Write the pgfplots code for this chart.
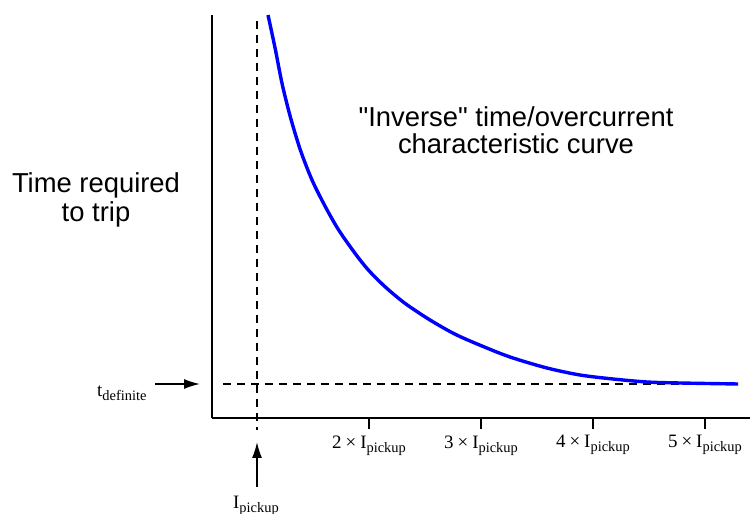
\documentclass[border=0pt]{standalone}
\usepackage{pgfplots}
\pgfplotsset{compat=1.18}
\usetikzlibrary{arrows.meta}
\usepackage{fontspec}
\setmainfont{Liberation Sans}[Ligatures=TeXOff]
\newfontfamily\tnr{Liberation Serif}[Ligatures=TeXOff]

% serif label with a lowered subscript
\newcommand\sublab[2]{{\tnr\fontsize{19}{21}\selectfont #1\raisebox{-4bp}{\fontsize{14.5}{15}\selectfont #2}}}
\newcommand\multlab[1]{{\tnr\fontsize{19}{21}\selectfont #1\hspace{4bp}×\hspace{4bp}I\raisebox{-4bp}{\fontsize{14.5}{15}\selectfont pickup}}}

\begin{document}
\begin{tikzpicture}
\useasboundingbox (0,0) rectangle (750bp,514bp);
\begin{axis}[at={(212bp,96bp)}, anchor=south west,
	scale only axis, width=538bp, height=403bp,
	xmin=0.598, xmax=5.402, ymin=0, ymax=4.03,
	axis lines=left,
	axis line style={-, line width=1.5bp},
	ytick=\empty,
	xtick={2,3,4,5},
	xticklabels={\multlab{2},\multlab{3},\multlab{4},\multlab{5}},
	tick align=outside,
	major tick length=11bp,
	tick style={line width=1.5bp, black},
	xticklabel style={yshift=-3bp},
	clip=false,
]

% pickup current
\addplot[black, line width=1.1bp, dash pattern=on 8bp off 6bp]
	coordinates {(1,3.97) (1,-0.12)};

% definite time
\addplot[black, line width=1.1bp, dash pattern=on 8bp off 6bp]
	coordinates {(0.696,0.34) (5.295,0.34)};

% inverse curve
\addplot[blue, line width=3.4bp, smooth]
	coordinates {(1.098,4.03) (1.163,3.69) (1.223,3.347) (1.297,3.013)
	(1.387,2.68) (1.491,2.38) (1.610,2.113) (1.729,1.88) (1.875,1.647)
	(1.994,1.48) (2.143,1.313) (2.321,1.147) (2.545,0.98) (2.783,0.83)
	(3.080,0.687) (3.286,0.60) (3.589,0.50) (3.884,0.43) (4.179,0.39)
	(4.482,0.36) (4.777,0.35) (5.295,0.34)};
\end{axis}

\begin{scope}[font=\fontsize{27.5}{30}\selectfont]
\node[anchor=base] at (96bp,321bp) {Time required};
\node[anchor=base] at (96bp,292bp) {to trip};
\node[anchor=base] at (516bp,387bp) {"Inverse" time/overcurrent};
\node[anchor=base] at (516bp,360bp) {characteristic curve};
\end{scope}

\node[anchor=base west, inner sep=0pt] at (97bp,117bp) {\sublab{t}{definite}};
\draw[line width=1.5bp, -{Latex[length=16bp,width=10bp]}] (155bp,130bp) -- (200bp,130bp);

\node[anchor=base, inner sep=0pt] at (256bp,6bp) {\sublab{I}{pickup}};
\draw[line width=1.5bp, -{Latex[length=16bp,width=10bp]}] (257bp,27bp) -- (257bp,72bp);
\end{tikzpicture}
\end{document}
